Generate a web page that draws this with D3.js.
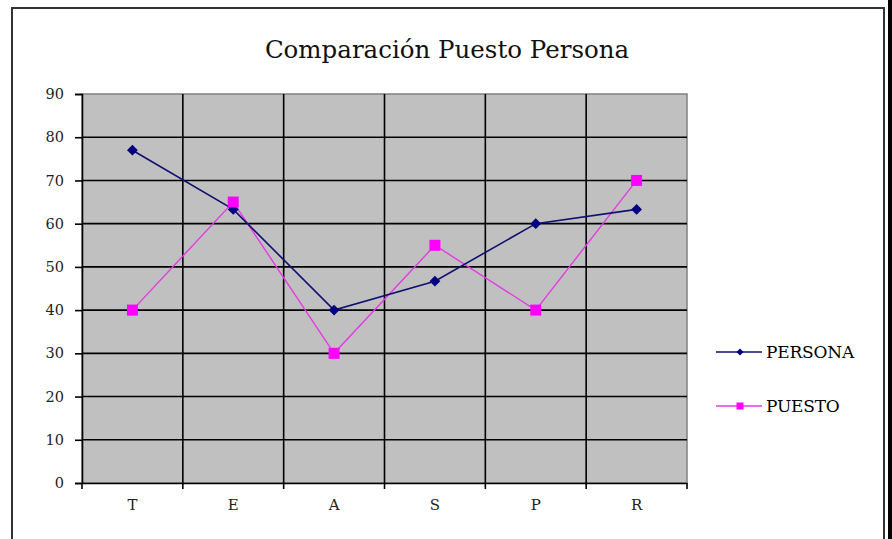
<!DOCTYPE html>
<html>
<head>
<meta charset="utf-8">
<script src="https://cdn.jsdelivr.net/npm/d3@7"></script>
<style>
  html, body { margin: 0; padding: 0; background: #fff; }
  svg { display: block; }
</style>
</head>
<body>
<script>
const categories = ["T", "E", "A", "S", "P", "R"];
const persona = [77, 63.3, 40, 46.7, 60, 63.3];
const puesto = [40, 65, 30, 55, 40, 70];
const yTicks = [0, 10, 20, 30, 40, 50, 60, 70, 80, 90];
const seriesNames = ["PERSONA", "PUESTO"];
const title = "Comparación Puesto Persona";

const W = 892, H = 539;
const serif = "'DejaVu Serif', 'Liberation Serif', serif";
const svg = d3.select("body").append("svg").attr("width", W).attr("height", H);

// outer frame
svg.append("rect").attr("x", 0).attr("y", 0).attr("width", W).attr("height", H).attr("fill", "#fff");
svg.append("path").attr("d", `M12,${H} L12,8 L884,8 L884,${H}`)
  .attr("fill", "none").attr("stroke", "#333").attr("stroke-width", 2);
svg.append("rect").attr("x", 888).attr("y", 0).attr("width", 4).attr("height", H).attr("fill", "#000");

const plot = { left: 82, right: 687, top: 94, bottom: 483 };
const x = d3.scaleBand().domain(categories).range([plot.left, plot.right]).paddingInner(0).paddingOuter(0);
const y = d3.scaleLinear().domain([0, 90]).range([plot.bottom, plot.top]);

// title
svg.append("text").attr("x", 447).attr("y", 58).attr("text-anchor", "middle")
  .attr("font-family", serif).attr("font-size", 24.5).attr("fill", "#111").text(title);

// plot background
svg.append("rect").attr("x", plot.left).attr("y", plot.top)
  .attr("width", plot.right - plot.left).attr("height", plot.bottom - plot.top)
  .attr("fill", "#c0c0c0").attr("stroke", "#808080").attr("stroke-width", 1.5);

// horizontal gridlines
svg.append("g").selectAll("line").data(yTicks.filter(t => t > 0 && t < 90)).join("line")
  .attr("x1", plot.left).attr("x2", plot.right)
  .attr("y1", d => y(d)).attr("y2", d => y(d))
  .attr("stroke", "#000").attr("stroke-width", 1.6);

// vertical gridlines at category boundaries
const bounds = categories.map(c => x(c)).concat([x(categories[categories.length - 1]) + x.bandwidth()]);
svg.append("g").selectAll("line").data(bounds.slice(1, -1)).join("line")
  .attr("x1", d => d).attr("x2", d => d)
  .attr("y1", plot.top).attr("y2", plot.bottom)
  .attr("stroke", "#000").attr("stroke-width", 1.6);

// y axis
const yAxis = svg.append("g").attr("transform", `translate(${plot.left},0)`)
  .call(d3.axisLeft(y).tickValues(yTicks).tickSize(7).tickPadding(11));
yAxis.select(".domain").attr("stroke", "#000").attr("stroke-width", 1.6);
yAxis.selectAll(".tick line").attr("stroke", "#000").attr("stroke-width", 1.6);
yAxis.selectAll("text").attr("font-family", serif).attr("font-size", 14.5).attr("fill", "#222");

// x axis
const xAxis = svg.append("g").attr("transform", `translate(0,${plot.bottom})`)
  .call(d3.axisBottom(x).tickSize(0).tickPadding(16));
xAxis.select(".domain").attr("stroke", "#000").attr("stroke-width", 1.6);
xAxis.selectAll("text").attr("font-family", serif).attr("font-size", 15).attr("fill", "#222");
svg.append("g").selectAll("line").data(bounds).join("line")
  .attr("x1", d => d).attr("x2", d => d)
  .attr("y1", plot.bottom).attr("y2", plot.bottom + 6)
  .attr("stroke", "#000").attr("stroke-width", 1.6);

const cx = c => x(c) + x.bandwidth() / 2;
const line = d3.line().x((d, i) => cx(categories[i])).y(d => y(d));

// PUESTO
svg.append("path").datum(puesto).attr("d", line).attr("fill", "none")
  .attr("stroke", "#e23ce2").attr("stroke-width", 1.4);
// PERSONA
svg.append("path").datum(persona).attr("d", line).attr("fill", "none")
  .attr("stroke", "#101070").attr("stroke-width", 1.6);

const diamond = d3.symbol().type(d3.symbolDiamond2);
svg.append("g").selectAll("path").data(persona).join("path")
  .attr("transform", (d, i) => `translate(${cx(categories[i])},${y(d)})`)
  .attr("d", diamond.size(75)).attr("fill", "#000080");
svg.append("g").selectAll("rect").data(puesto).join("rect")
  .attr("x", (d, i) => cx(categories[i]) - 5.5).attr("y", d => y(d) - 5.5)
  .attr("width", 11).attr("height", 11).attr("fill", "#ff00ff");

// legend
const leg = svg.append("g");
const legY = [352, 406];
const legColors = ["#101070", "#e23ce2"];
seriesNames.forEach((name, i) => {
  leg.append("line").attr("x1", 716).attr("x2", 762).attr("y1", legY[i]).attr("y2", legY[i])
    .attr("stroke", legColors[i]).attr("stroke-width", 1.5);
  if (i === 0) {
    leg.append("path").attr("transform", `translate(740,${legY[i]})`)
      .attr("d", d3.symbol().type(d3.symbolDiamond2).size(32)()).attr("fill", "#000080");
  } else {
    leg.append("rect").attr("x", 736.5).attr("y", legY[i] - 3.5).attr("width", 7).attr("height", 7)
      .attr("fill", "#ff00ff");
  }
  leg.append("text").attr("x", 766).attr("y", legY[i] + 6)
    .attr("font-family", serif).attr("font-size", 17).attr("fill", "#000")
    .attr("letter-spacing", -0.2).text(name);
});
</script>
</body>
</html>
